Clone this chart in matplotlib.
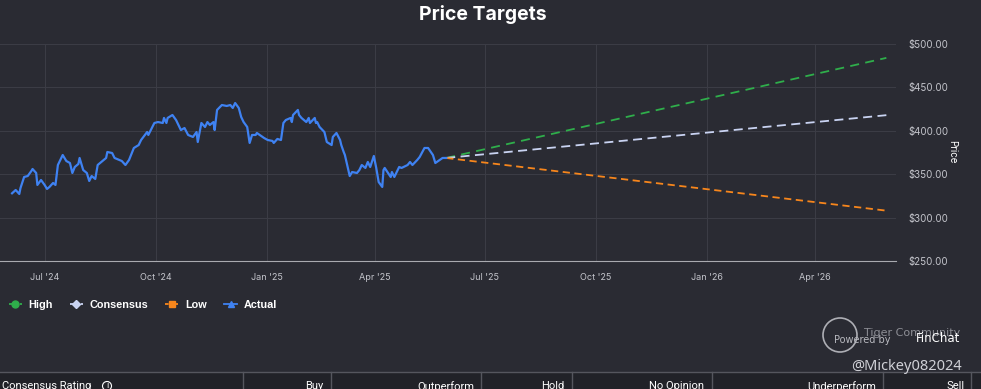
import matplotlib
matplotlib.use('Agg')
import matplotlib.pyplot as plt
from matplotlib.lines import Line2D
from matplotlib.patches import Circle, Rectangle
import pandas as pd

actual_dates = [
    '2024-06-04', '2024-06-07', '2024-06-10', '2024-06-11', '2024-06-14', '2024-06-17', '2024-06-20',
    '2024-06-21', '2024-06-24', '2024-06-25', '2024-06-28', '2024-07-01', '2024-07-03', '2024-07-05',
    '2024-07-08', '2024-07-10', '2024-07-12', '2024-07-16', '2024-07-19', '2024-07-22', '2024-07-24',
    '2024-07-26', '2024-07-29', '2024-07-30', '2024-08-02', '2024-08-05', '2024-08-07', '2024-08-09',
    '2024-08-12', '2024-08-14', '2024-08-19', '2024-08-21', '2024-08-22', '2024-08-26', '2024-08-28',
    '2024-09-03', '2024-09-06', '2024-09-09', '2024-09-13', '2024-09-17', '2024-09-19', '2024-09-24',
    '2024-09-25', '2024-09-30', '2024-10-03', '2024-10-07', '2024-10-08', '2024-10-10', '2024-10-11',
    '2024-10-15', '2024-10-18', '2024-10-22', '2024-10-25', '2024-10-28', '2024-11-01', '2024-11-04',
    '2024-11-05', '2024-11-08', '2024-11-11', '2024-11-13', '2024-11-15', '2024-11-18', '2024-11-19',
    '2024-11-21', '2024-11-25', '2024-11-29', '2024-12-02', '2024-12-04', '2024-12-06', '2024-12-09',
    '2024-12-11', '2024-12-13', '2024-12-16', '2024-12-18', '2024-12-20', '2024-12-23', '2024-12-24',
    '2024-12-30', '2025-01-02', '2025-01-06', '2025-01-07', '2025-01-10', '2025-01-13', '2025-01-15',
    '2025-01-17', '2025-01-21', '2025-01-22', '2025-01-23', '2025-01-27', '2025-01-28', '2025-01-30',
    '2025-02-03', '2025-02-05', '2025-02-06', '2025-02-10', '2025-02-11', '2025-02-12', '2025-02-14',
    '2025-02-18', '2025-02-20', '2025-02-24', '2025-02-25', '2025-02-28', '2025-03-03', '2025-03-04',
    '2025-03-06', '2025-03-07', '2025-03-11', '2025-03-13', '2025-03-17', '2025-03-19', '2025-03-21',
    '2025-03-24', '2025-03-26', '2025-03-28', '2025-03-31', '2025-04-02', '2025-04-04', '2025-04-07',
    '2025-04-08', '2025-04-09', '2025-04-14', '2025-04-15', '2025-04-17', '2025-04-21', '2025-04-23',
    '2025-04-28', '2025-04-30', '2025-05-02', '2025-05-06', '2025-05-08', '2025-05-12', '2025-05-15',
    '2025-05-19', '2025-05-21', '2025-05-27', '2025-05-30',
]
actual_prices = [
    328.0, 331.8, 327.2, 334.1, 346.8, 347.9, 353.7,
    356.0, 351.4, 337.6, 343.3, 337.6, 333.0, 335.3,
    339.9, 337.6, 360.6, 372.1, 365.2, 362.9, 351.4,
    358.3, 361.8, 368.7, 354.8, 351.4, 342.2, 347.9,
    344.5, 360.6, 366.4, 368.7, 375.6, 374.4, 368.7,
    365.2, 360.6, 366.4, 380.2, 383.6, 389.4, 398.6,
    395.2, 409.0, 410.1, 409.0, 414.8, 409.0, 414.8,
    418.2, 412.4, 400.9, 403.2, 395.2, 392.9, 398.6,
    387.1, 409.0, 404.4, 410.1, 406.7, 410.1, 400.9,
    424.0, 429.7, 428.6, 429.7, 426.3, 432.0, 426.3,
    415.9, 410.1, 404.4, 386.0, 395.2, 395.2, 397.5,
    391.7, 389.4, 388.3, 386.0, 390.6, 389.4, 409.0,
    412.4, 414.8, 410.1, 418.2, 424.0, 418.2, 414.8,
    410.1, 414.8, 409.0, 414.8, 409.0, 410.1, 404.4,
    398.6, 387.1, 383.6, 392.9, 397.5, 389.4, 383.6,
    375.6, 372.1, 347.9, 352.5, 351.4, 354.8, 360.6,
    357.2, 364.1, 358.3, 371.0, 357.2, 341.0, 335.3,
    354.8, 357.2, 346.8, 352.5, 346.8, 358.3, 357.2,
    360.6, 364.1, 360.6, 366.4, 369.8, 380.2, 380.2,
    372.1, 362.9, 368.7, 368.7,
]

target_dates = ['2025-05-30', '2026-05-30']
high_target = [368.7, 484.0]
consensus_target = [368.7, 418.0]
low_target = [368.7, 308.0]

x_ticks = ['2024-07-01', '2024-10-01', '2025-01-01', '2025-04-01',
           '2025-07-01', '2025-10-01', '2026-01-01', '2026-04-01']
x_tick_labels = ["Jul '24", "Oct '24", "Jan '25", "Apr '25",
                 "Jul '25", "Oct '25", "Jan '26", "Apr '26"]
y_ticks = [250, 300, 350, 400, 450, 500]

table_headers = ['Buy', 'Outperform', 'Hold', 'No Opinion', 'Underperform', 'Sell']

bg = '#2a2b33'
grid_c = '#3b3c45'
green = '#2fae4b'
lav = '#c9d3f2'
orange = '#f7861c'
blue = '#3f82f2'

W, H = 981, 389
fig = plt.figure(figsize=(W / 100, H / 100), dpi=100, facecolor=bg)
ax = fig.add_axes([0, 1 - 261 / H, 896 / W, 217 / H], facecolor=bg)

ad = pd.to_datetime(actual_dates)
td = pd.to_datetime(target_dates)

ax.plot(td, high_target, color=green, lw=1.3, dashes=(5, 3.5), zorder=3)
ax.plot(td, consensus_target, color=lav, lw=1.3, dashes=(5, 3), zorder=3)
ax.plot(td, low_target, color=orange, lw=1.3, dashes=(4, 2.5), zorder=3)
ax.plot(ad, actual_prices, color=blue, lw=1.6, zorder=4)

ax.set_xlim(pd.Timestamp('2024-05-25'), pd.Timestamp('2026-06-07'))
ax.set_ylim(250, 500)
ax.set_xticks(pd.to_datetime(x_ticks))
ax.set_xticklabels(x_tick_labels)
ax.set_yticks(y_ticks)
ax.set_yticklabels([f'${v:.2f}' for v in y_ticks])
ax.yaxis.tick_right()
ax.tick_params(axis='both', length=0, colors='#c4c5cc', labelsize=6.5)
ax.tick_params(axis='y', labelsize=7)
ax.tick_params(axis='x', pad=9)
ax.tick_params(axis='y', pad=9)
for lbl in ax.get_xticklabels() + ax.get_yticklabels():
    lbl.set_family('Inter')
ax.grid(True, color=grid_c, lw=0.8)
for s in ['top', 'left', 'right']:
    ax.spines[s].set_visible(False)
ax.spines['bottom'].set_color('#a9aab0')
ax.spines['bottom'].set_linewidth(0.8)

# overlay in pixel coordinates for the surrounding text
ov = fig.add_axes([0, 0, 1, 1])
ov.set_xlim(0, W)
ov.set_ylim(H, 0)
ov.axis('off')
ov.patch.set_alpha(0)

ov.text(483, 14, 'Price Targets', color='white', fontsize=14, fontweight='bold',
        family='Inter', ha='center', va='center')
ov.text(952, 152, 'Price', color='white', fontsize=7, family='Inter',
        rotation=270, ha='center', va='center')

handles = [
    Line2D([], [], color=green, marker='o', markersize=5, lw=1.3, dashes=(2, 1)),
    Line2D([], [], color=lav, marker='D', markersize=4, lw=1.3, dashes=(2, 1)),
    Line2D([], [], color=orange, marker='s', markersize=5, lw=1.3, dashes=(2, 1)),
    Line2D([], [], color=blue, marker='^', markersize=5, lw=1.3),
]
fig.legend(handles, ['High', 'Consensus', 'Low', 'Actual'], loc='center left',
           bbox_to_anchor=(0.0, 1 - 305 / H), ncol=4, frameon=False, handlelength=1.2,
           handletextpad=0.6, columnspacing=1.6, labelcolor='white', borderpad=0.3,
           prop={'family': 'Liberation Sans', 'weight': 'bold', 'size': 7.8})

# watermark
ov.add_patch(Circle((840, 335), 17, fill=False, ec='#cfd0d6', lw=1.2, alpha=0.8))
ov.text(912, 333, 'Tiger Community', color='#8d8e95', fontsize=8, ha='center', va='center')
ov.text(862, 340, 'Powered by', color='#b8b9bf', fontsize=7, ha='center', va='center')
ov.text(938, 339, 'FinChat', color='white', fontsize=8.5, ha='center', va='center')
ov.text(962, 367, '@Mickey082024', color='#cfd0d6', fontsize=10.5,
        family='Noto Sans', ha='right', va='center')

# table header row
ov.add_patch(Rectangle((0, 372), W, 20, fc='#212228', ec='none'))
ov.plot([0, W], [372, 372], color='#55565e', lw=1)
for xs in [243, 331, 481, 572, 712, 883, 971]:
    ov.plot([xs, xs], [372, H], color='#55565e', lw=1)
ov.text(2, 381, 'Consensus Rating', color='white', fontsize=8, family='Roboto', va='top')
ov.add_patch(Circle((107, 386), 4.5, fill=False, ec='white', lw=0.8))
ov.text(107, 386, 'i', color='white', fontsize=6, ha='center', va='center')
for name, xr in zip(table_headers, [323, 474, 564, 704, 876, 965]):
    ov.text(xr, 381, name, color='white', fontsize=8, family='Roboto', ha='right', va='top')

fig.savefig('out.png', dpi=100, facecolor=bg)
